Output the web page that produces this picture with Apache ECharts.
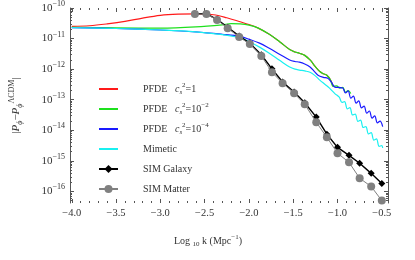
<!DOCTYPE html>
<html><head><meta charset="utf-8">
<script src="https://cdn.jsdelivr.net/npm/echarts@6/dist/echarts.min.js"></script>
<style>html,body{margin:0;padding:0;background:#fff}#c{width:415px;height:260px}</style>
</head><body><div id="c"></div>
<script>
// ---- tick labels ----
const xTicks = [-4.0, -3.5, -3.0, -2.5, -2.0, -1.5, -1.0, -0.5];
const yTickExps = [-16, -15, -14, -13, -12, -11, -10];

// ---- series names ----
const names = ['PFDE1', 'PFDE2', 'PFDE4', 'Mimetic', 'SIM Galaxy', 'SIM Matter'];

// ---- data: [log10 k, log10 |P - P_LCDM|] ----
const pfde1 = [[-4.0,-10.60],[-3.8,-10.58],[-3.6,-10.52],[-3.4,-10.44],[-3.2,-10.33],[-3.0,-10.24],[-2.8,-10.20],[-2.6,-10.19],[-2.4,-10.22],[-2.25,-10.32],[-2.1,-10.45],[-2.0,-10.54],[-1.9,-10.65],[-1.77,-10.86],[-1.65,-11.11],[-1.54,-11.36],[-1.48,-11.44],[-1.43,-11.48],[-1.37,-11.55],[-1.31,-11.70],[-1.25,-11.92],[-1.2,-12.08],[-1.16,-12.15],[-1.12,-12.20],[-1.08,-12.35],[-1.05,-12.56]];
const pfde2 = [[-4.0,-10.63],[-3.5,-10.65],[-3.0,-10.66],[-2.6,-10.62],[-2.3,-10.55],[-2.2,-10.51],[-2.1,-10.52],[-2.0,-10.56],[-1.9,-10.65],[-1.77,-10.86],[-1.65,-11.11],[-1.54,-11.36],[-1.48,-11.44],[-1.43,-11.48],[-1.37,-11.55],[-1.31,-11.70],[-1.25,-11.92],[-1.2,-12.08],[-1.16,-12.15],[-1.12,-12.20],[-1.08,-12.35],[-1.05,-12.56],[-1.01,-12.55],[-0.975,-12.62],[-0.94,-12.60],[-0.91,-12.76],[-0.88,-12.70],[-0.85,-12.80]];
const pfde4 = [[-4.0,-10.64],[-3.5,-10.67],[-3.0,-10.72],[-2.6,-10.78],[-2.3,-10.86],[-2.1,-10.93],[-2.0,-11.02],[-1.88,-11.15],[-1.77,-11.32],[-1.65,-11.52],[-1.54,-11.70],[-1.48,-11.75],[-1.43,-11.77],[-1.37,-11.83],[-1.31,-11.93],[-1.26,-12.08],[-1.22,-12.20],[-1.16,-12.27],[-1.11,-12.30],[-1.07,-12.42],[-1.03,-12.59],[-0.98,-12.60],[-0.94,-12.62],[-0.91,-12.78],[-0.88,-12.71],[-0.85,-12.95],[-0.82,-12.88],[-0.79,-13.11],[-0.76,-13.04],[-0.73,-13.27],[-0.70,-13.21],[-0.67,-13.44],[-0.64,-13.37],[-0.61,-13.60],[-0.58,-13.53],[-0.55,-13.76],[-0.52,-13.70],[-0.49,-13.88]];
const mimetic = [[-4.0,-10.64],[-3.5,-10.67],[-3.0,-10.72],[-2.6,-10.78],[-2.3,-10.87],[-2.1,-10.97],[-1.99,-11.11],[-1.88,-11.28],[-1.77,-11.48],[-1.65,-11.72],[-1.54,-11.93],[-1.48,-12.00],[-1.43,-12.03],[-1.37,-12.06],[-1.31,-12.10],[-1.25,-12.22],[-1.2,-12.36],[-1.14,-12.50],[-1.09,-12.62],[-1.03,-12.80],[-0.98,-12.92],[-0.95,-13.09],[-0.92,-13.06],[-0.89,-13.30],[-0.86,-13.26],[-0.83,-13.50],[-0.80,-13.47],[-0.77,-13.71],[-0.74,-13.67],[-0.71,-13.91],[-0.68,-13.88],[-0.65,-14.12],[-0.62,-14.08],[-0.59,-14.32],[-0.56,-14.28],[-0.53,-14.53],[-0.50,-14.50],[-0.49,-14.58]];
const simK = [-2.61,-2.48,-2.36,-2.24,-2.11,-1.99,-1.86,-1.74,-1.62,-1.49,-1.37,-1.24,-1.12,-1.00,-0.87,-0.75,-0.62,-0.50];
const simGalaxy = [-10.19,-10.19,-10.37,-10.63,-10.92,-11.15,-11.53,-11.99,-12.42,-12.75,-13.10,-13.57,-14.13,-14.56,-14.82,-15.08,-15.41,-15.74];
const simMatter = [-10.20,-10.20,-10.39,-10.66,-10.95,-11.18,-11.57,-12.10,-12.46,-12.79,-13.15,-13.74,-14.23,-14.75,-15.05,-15.57,-15.84,-16.30];

// ---- axis ranges ----
const xMin = -4.02, xMax = -0.43, yMin = -16.38, yMax = -10.0;

const xMinor = [];
for (let i = -40; i <= -4; i++) { const v = i / 10; if (v >= xMin && v <= xMax && Math.abs(i % 5) !== 0) xMinor.push(v); }
const yMinor = [];
for (let e = -17; e <= -11; e++) for (let m = 2; m <= 9; m++) { const v = e + Math.log10(m); if (v > yMin && v < yMax) yMinor.push(v); }

const FONT = 'Liberation Serif';
const AX = '#555';
const TXT = '#333';
const supRich = {
  b: {fontFamily: FONT, fontSize: 11, color: TXT, lineHeight: 16, verticalAlign: 'middle'},
  s: {fontFamily: FONT, fontSize: 8, color: TXT, lineHeight: 16, verticalAlign: 'top'}
};

function xAx(pos, major, labels) {
  return {
    type: 'value', min: xMin, max: xMax, position: pos,
    axisLine: {show: false},
    axisTick: {show: true, inside: true, length: major ? 4 : 2, customValues: major ? xTicks : xMinor, lineStyle: {color: AX}},
    axisLabel: labels ? {show: true, customValues: xTicks, margin: 5, fontFamily: FONT, fontSize: 10.5, color: TXT,
      formatter: v => (v < 0 ? '\u2212' : '') + Math.abs(v).toFixed(1)} : {show: false},
    splitLine: {show: false}
  };
}
function yAx(pos, major, labels, line) {
  return {
    type: 'value', min: yMin, max: yMax, position: pos,
    axisLine: {show: line, lineStyle: {color: AX, width: 1}},
    axisTick: {show: true, inside: true, length: major ? 4 : 2, customValues: major ? yTickExps : yMinor, lineStyle: {color: AX}},
    axisLabel: labels ? {show: true, customValues: yTickExps, margin: 5,
      formatter: v => '{b|10}{s|\u2212' + Math.abs(Math.round(v)) + '}', rich: supRich} : {show: false},
    splitLine: {show: false}
  };
}

const xAxes = [xAx('bottom', true, true), xAx('bottom', false, false), xAx('top', true, false), xAx('top', false, false)];
xAxes[0].name = 'Log {sub|10} k (Mpc{sup|\u22121})';
xAxes[0].nameLocation = 'middle';
xAxes[0].nameGap = 31;
xAxes[0].nameTextStyle = {fontFamily: FONT, fontSize: 10, color: TXT, padding: [0, 42, 0, 0],
  rich: {sub: {fontFamily: FONT, fontSize: 7, color: TXT, verticalAlign: 'bottom', lineHeight: 14},
         sup: {fontFamily: FONT, fontSize: 7, color: TXT, verticalAlign: 'top', lineHeight: 14}}};
const yAxes = [yAx('left', true, true, true), yAx('left', false, false, false), yAx('right', true, false, true), yAx('right', false, false, false)];
yAxes[0].name = '|{i|P}{sub|\u03d5}\u2212{i|P}{sub|\u03d5}{sup|\u039bCDM}|';
yAxes[0].nameLocation = 'middle';
yAxes[0].nameRotate = 90;
yAxes[0].nameGap = 46;
yAxes[0].nameTextStyle = {fontFamily: FONT, fontSize: 11, color: TXT,
  rich: {i: {fontFamily: FONT, fontStyle: 'italic', fontSize: 11, color: TXT, lineHeight: 16},
         sub: {fontFamily: FONT, fontStyle: 'italic', fontSize: 8, color: TXT, verticalAlign: 'bottom', lineHeight: 16},
         sup: {fontFamily: FONT, fontSize: 8, color: TXT, verticalAlign: 'top', lineHeight: 16}}};

const lineSeries = (name, data, color, z) => ({
  name, type: 'line', data, symbol: 'none', smooth: 0.35, xAxisIndex: 0, yAxisIndex: 0, z,
  lineStyle: {color, width: 1.2}, itemStyle: {color}
});

const legendRich = {
  i: {fontFamily: FONT, fontStyle: 'italic', fontSize: 10, color: TXT, lineHeight: 14},
  sub: {fontFamily: FONT, fontStyle: 'italic', fontSize: 7, color: TXT, verticalAlign: 'bottom', lineHeight: 14},
  sup: {fontFamily: FONT, fontSize: 7, color: TXT, verticalAlign: 'top', lineHeight: 14},
  t: {fontFamily: FONT, fontSize: 10, color: TXT, lineHeight: 14}
};
const legendText = {
  'PFDE1': '{t|PFDE   }{i|c}{sub|s}{sup|2}{t|=1}',
  'PFDE2': '{t|PFDE   }{i|c}{sub|s}{sup|2}{t|=10}{sup|\u22122}',
  'PFDE4': '{t|PFDE   }{i|c}{sub|s}{sup|2}{t|=10}{sup|\u22124}',
  'Mimetic': '{t|Mimetic}',
  'SIM Galaxy': '{t|SIM Galaxy}',
  'SIM Matter': '{t|SIM Matter}'
};

const chart = echarts.init(document.getElementById('c'), null, {renderer: 'canvas'});
chart.setOption({
  animation: false,
  backgroundColor: '#fff',
  grid: {left: 70, right: 27, top: 8, bottom: 57, containLabel: false},
  xAxis: xAxes,
  yAxis: yAxes,
  legend: {
    left: 93, top: 77, orient: 'vertical', itemWidth: 19, itemHeight: 10, itemGap: 6,
    data: names.map((n, i) => i < 4 ? {name: n, itemStyle: {opacity: 0}} : {name: n}),
    formatter: n => legendText[n],
    textStyle: {fontFamily: FONT, fontSize: 10, color: TXT, lineHeight: 14, height: 14, padding: [0, 0, 0, 20], rich: legendRich}
  },
  series: [
    lineSeries(names[0], pfde1, '#ff1a1a', 2),
    lineSeries(names[1], pfde2, '#1ee01e', 3),
    lineSeries(names[2], pfde4, '#1a1aff', 4),
    lineSeries(names[3], mimetic, '#19f0f0', 5),
    {name: names[4], type: 'line', data: simK.map((k, i) => [k, simGalaxy[i]]), symbol: 'diamond', symbolSize: 7, z: 6,
      lineStyle: {color: '#000', width: 1.4}, itemStyle: {color: '#000'}},
    {name: names[5], type: 'line', data: simK.map((k, i) => [k, simMatter[i]]), symbol: 'circle', symbolSize: 8, z: 7,
      lineStyle: {color: '#808080', width: 1}, itemStyle: {color: '#808080'}}
  ]
});
</script></body></html>
